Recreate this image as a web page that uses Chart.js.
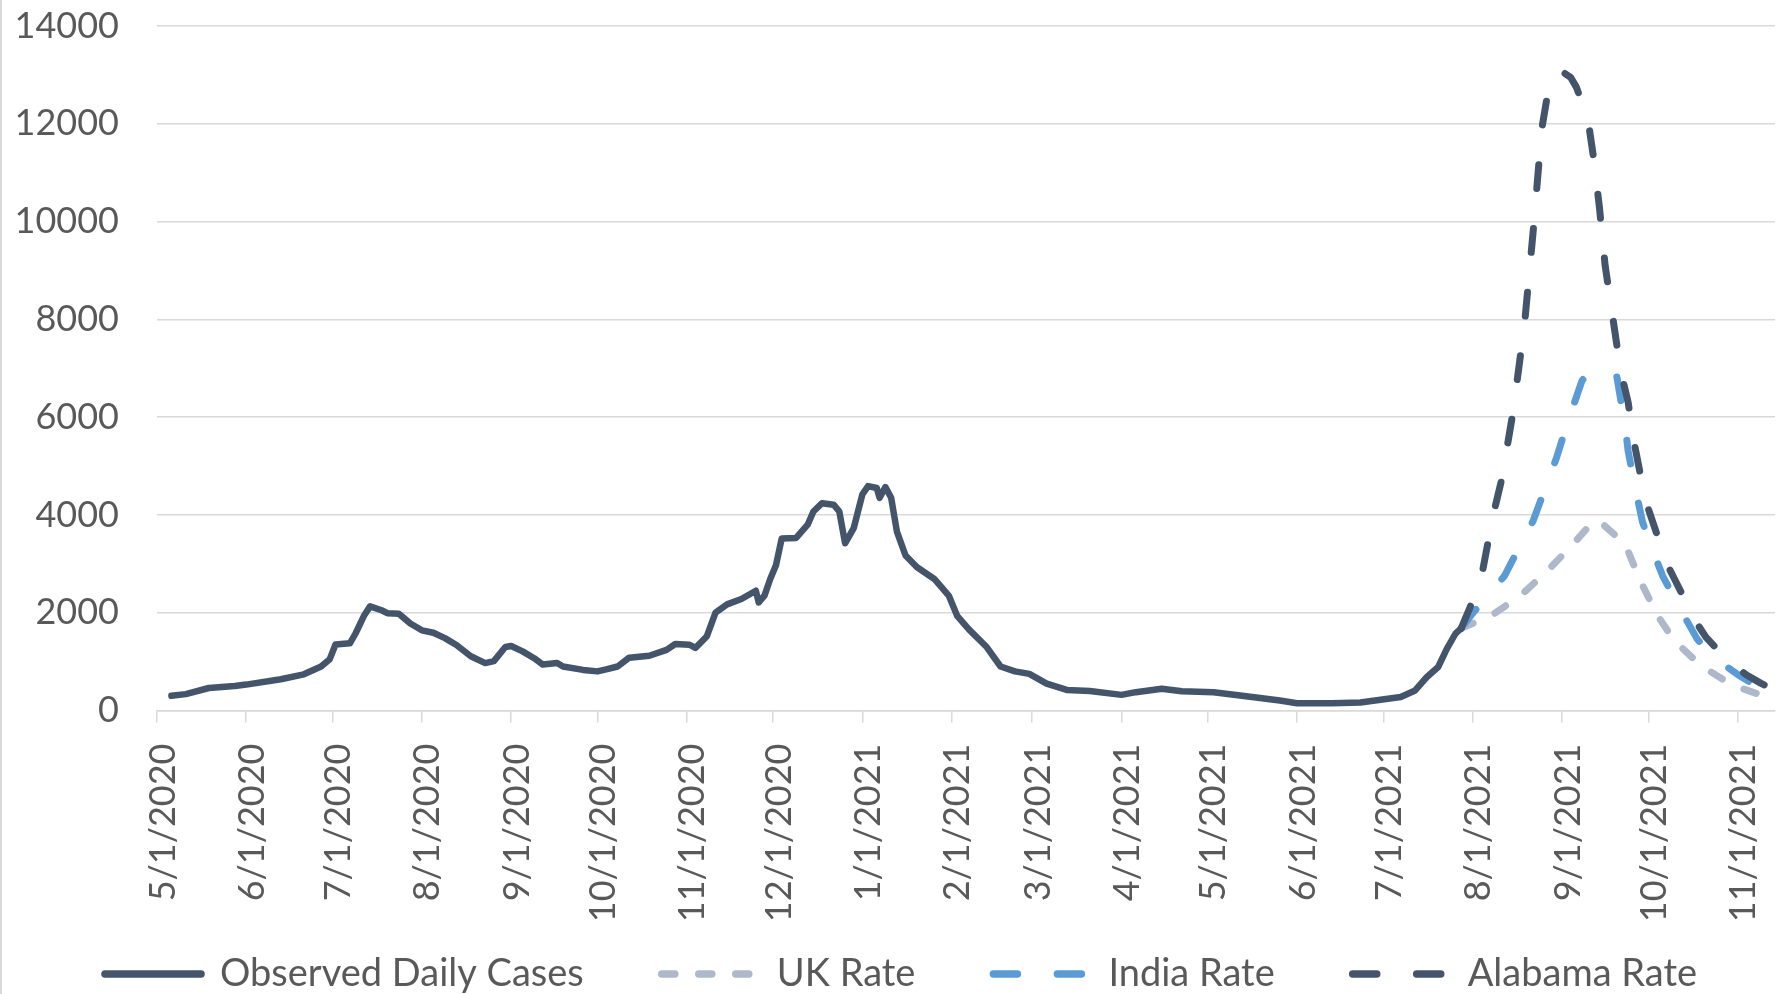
<!DOCTYPE html>
<html>
<head>
<meta charset="utf-8">
<script src="https://cdn.jsdelivr.net/npm/chart.js@4.4.1/dist/chart.umd.min.js"></script>
<style>
  html, body { margin: 0; padding: 0; background: #fff; }
  #wrap { position: relative; width: 1790px; height: 994px; }
  #frame { position: absolute; left: 0; top: 0; width: 2px; height: 994px; background: #d9d9d9; }
</style>
</head>
<body>
<div id="wrap">
  <div id="frame"></div>
  <canvas id="chart"></canvas>
</div>
<script>
// Observed daily cases
const observedDates = [
  '5/6/2020', '5/11/2020', '5/19/2020', '5/28/2020', '6/1/2020', '6/13/2020', '6/21/2020', '6/27/2020',
  '6/30/2020', '7/2/2020', '7/7/2020', '7/9/2020', '7/12/2020', '7/14/2020', '7/18/2020', '7/20/2020',
  '7/24/2020', '7/28/2020', '8/1/2020', '8/5/2020', '8/9/2020', '8/13/2020', '8/18/2020', '8/23/2020',
  '8/26/2020', '8/30/2020', '9/1/2020', '9/5/2020', '9/9/2020', '9/12/2020', '9/17/2020', '9/19/2020',
  '9/26/2020', '10/1/2020', '10/4/2020', '10/8/2020', '10/12/2020', '10/19/2020', '10/25/2020', '10/28/2020',
  '11/2/2020', '11/4/2020', '11/8/2020', '11/11/2020', '11/15/2020', '11/20/2020', '11/25/2020', '11/26/2020',
  '11/28/2020', '11/30/2020', '12/2/2020', '12/4/2020', '12/9/2020', '12/13/2020', '12/15/2020', '12/18/2020',
  '12/22/2020', '12/24/2020', '12/26/2020', '12/29/2020', '1/1/2021', '1/3/2021', '1/6/2021', '1/7/2021',
  '1/9/2021', '1/11/2021', '1/13/2021', '1/16/2021', '1/20/2021', '1/26/2021', '1/31/2021', '2/3/2021',
  '2/7/2021', '2/13/2021', '2/18/2021', '2/23/2021', '2/28/2021', '3/6/2021', '3/13/2021', '3/21/2021',
  '4/1/2021', '4/6/2021', '4/15/2021', '4/22/2021', '5/3/2021', '5/15/2021', '5/26/2021', '6/1/2021',
  '6/13/2021', '6/23/2021', '6/30/2021', '7/7/2021', '7/12/2021', '7/16/2021', '7/20/2021', '7/23/2021',
  '7/26/2021', '7/28/2021'
];
const observedCases = [
  300, 335, 460, 500, 530, 640, 740, 900,
  1050, 1350, 1375, 1580, 1950, 2130, 2050, 1990,
  1980, 1780, 1640, 1590, 1480, 1340, 1110, 970,
  1010, 1300, 1320, 1210, 1070, 940, 970, 900,
  830, 800, 840, 900, 1080, 1120, 1240, 1360,
  1345, 1280, 1520, 2000, 2170, 2280, 2450, 2210,
  2350, 2690, 2970, 3520, 3530, 3800, 4070, 4240,
  4210, 4070, 3420, 3730, 4420, 4590, 4550, 4350,
  4570, 4350, 3660, 3170, 2930, 2690, 2350, 1930,
  1660, 1310, 900, 800, 750, 550, 420, 400,
  320, 375, 445, 395, 375, 285, 205, 150,
  150, 165, 220, 275, 410, 680, 890, 1260,
  1570, 1680
];

// projections from 7/28/2021
const ukDates = [
  '7/28/2021', '8/8/2021', '8/18/2021', '8/27/2021', '9/5/2021', '9/12/2021', '9/15/2021', '9/23/2021',
  '9/28/2021', '10/4/2021', '10/10/2021', '10/19/2021', '10/30/2021', '11/10/2021', '11/14/2021'
];
const ukRate = [1680, 1960, 2370, 2860, 3410, 3880, 3820, 3400, 2680, 1960, 1430, 930, 520, 300, 250];

const indiaDates = [
  '7/28/2021', '8/1/2021', '8/12/2021', '8/22/2021', '8/30/2021', '9/3/2021', '9/8/2021', '9/11/2021',
  '9/15/2021', '9/18/2021', '9/20/2021', '9/23/2021', '9/24/2021', '9/27/2021', '9/29/2021', '10/3/2021',
  '10/6/2021', '10/12/2021', '10/18/2021', '10/24/2021', '11/2/2021', '11/8/2021', '11/14/2021'
];
const indiaRate = [
  1680, 1990, 2750, 3880, 5150, 5900, 6750, 6950,
  6950, 6900, 6850, 5800, 5300, 4400, 3850, 3200,
  2750, 2080, 1460, 1070, 700, 480, 280
];

const alabamaDates = [
  '7/28/2021', '7/31/2021', '8/4/2021', '8/8/2021', '8/11/2021', '8/15/2021', '8/19/2021', '8/22/2021',
  '8/25/2021', '8/28/2021', '8/30/2021', '9/2/2021', '9/4/2021', '9/6/2021', '9/10/2021', '9/12/2021',
  '9/14/2021', '9/16/2021', '9/18/2021', '9/20/2021', '9/22/2021', '9/24/2021', '9/26/2021', '9/28/2021',
  '9/30/2021', '10/2/2021', '10/4/2021', '10/7/2021', '10/10/2021', '10/13/2021', '10/17/2021', '10/21/2021',
  '10/25/2021', '10/30/2021', '11/4/2021', '11/9/2021', '11/14/2021'
];
const alabamaRate = [
  1680, 2100, 2720, 3970, 4710, 6100, 7900, 9800,
  11900, 12950, 13030, 13030, 12950, 12750, 12100, 11300,
  10300, 9100, 8300, 7500, 6800, 6300, 5500, 4900,
  4300, 3950, 3600, 3050, 2700, 2350, 1860, 1500,
  1250, 960, 730, 560, 410
];

const tickDates = [
  '5/1/2020', '6/1/2020', '7/1/2020', '8/1/2020', '9/1/2020', '10/1/2020', '11/1/2020', '12/1/2020',
  '1/1/2021', '2/1/2021', '3/1/2021', '4/1/2021', '5/1/2021', '6/1/2021', '7/1/2021', '8/1/2021',
  '9/1/2021', '10/1/2021', '11/1/2021'
];
const axisStart = '5/1/2020';
const axisEnd = '11/14/2021';
const yTicks = [0, 2000, 4000, 6000, 8000, 10000, 12000, 14000];

const FONT = "Lato, 'Open Sans', sans-serif";
const TEXT = '#595959';
const GRID = '#D9D9D9';

// days since the first day on the axis
function dayOf(s) {
  const [m, d, y] = s.split('/').map(Number);
  return (Date.UTC(y, m - 1, d) - Date.UTC(2020, 4, 1)) / 864e5;
}
const points = (dates, vals) => dates.map((d, i) => ({ x: dayOf(d), y: vals[i] }));

const tickLabel = {};
tickDates.forEach(d => { tickLabel[dayOf(d)] = d; });

const lineStyle = {
  pointRadius: 0,
  pointHoverRadius: 0,
  tension: 0,
  borderCapStyle: 'round',
  borderJoinStyle: 'round',
  fill: false
};

// the date labels hang down behind the legend's top padding, so don't clip them to the axis box
const unclipDates = {
  id: 'unclipDates',
  afterLayout(chart) {
    chart.scales.x.bottom = chart.height;
  }
};

new Chart(document.getElementById('chart'), {
  type: 'line',
  plugins: [unclipDates],
  data: {
    datasets: [
      { ...lineStyle, label: 'Observed Daily Cases', data: points(observedDates, observedCases),
        borderColor: '#44546A', backgroundColor: '#44546A', borderWidth: 6.5, order: 0 },
      { ...lineStyle, label: 'UK Rate', data: points(ukDates, ukRate),
        borderColor: '#ADB9CA', backgroundColor: '#ADB9CA', borderWidth: 7, borderDash: [13, 24], order: 3 },
      { ...lineStyle, label: 'India Rate', data: points(indiaDates, indiaRate),
        borderColor: '#5B9BD5', backgroundColor: '#5B9BD5', borderWidth: 7, borderDash: [24, 40], order: 2 },
      { ...lineStyle, label: 'Alabama Rate', data: points(alabamaDates, alabamaRate),
        borderColor: '#44546A', backgroundColor: '#44546A', borderWidth: 7, borderDash: [24, 40], order: 1 }
    ]
  },
  options: {
    responsive: true,
    maintainAspectRatio: false,
    animation: false,
    devicePixelRatio: 1,
    layout: { padding: { left: 14, right: 15, top: 26, bottom: -9 } },
    scales: {
      x: {
        type: 'linear',
        min: dayOf(axisStart),
        max: dayOf(axisEnd),
        afterBuildTicks: (scale) => {
          scale.ticks = tickDates.map(d => ({ value: dayOf(d) }));
        },
        // rotated labels sit on their ticks, they never spill past the ends
        afterFit: (scale) => {
          scale.height = 166.5;
          scale.paddingLeft = 0;
          scale.paddingRight = 0;
        },
        ticks: {
          autoSkip: false,
          minRotation: 90,
          maxRotation: 90,
          padding: 21,
          labelOffset: 6,
          color: TEXT,
          font: { family: FONT, size: 36 },
          callback: (v) => tickLabel[v]
        },
        grid: { drawOnChartArea: false, color: GRID, lineWidth: 1.5, tickLength: 12 },
        border: { display: true, color: GRID, width: 1.5 }
      },
      y: {
        min: 0,
        max: 14000,
        afterBuildTicks: (scale) => {
          scale.ticks = yTicks.map(v => ({ value: v }));
        },
        afterFit: (scale) => {
          scale.width = 143;
          scale.paddingTop = 0;
          scale.paddingBottom = 0;
        },
        ticks: {
          padding: 38,
          color: TEXT,
          font: { family: FONT, size: 36 },
          callback: (v) => String(v)
        },
        grid: { color: GRID, lineWidth: 1.5, drawTicks: false },
        border: { display: false }
      }
    },
    plugins: {
      tooltip: { enabled: false },
      legend: {
        position: 'bottom',
        align: 'end',
        labels: {
          usePointStyle: true,
          pointStyleWidth: 96,
          padding: 78,
          color: TEXT,
          font: { family: FONT, size: 38 },
          // line samples carry each dataset's own dash pattern
          generateLabels: (c) => c.data.datasets.map((ds, i) => ({
            text: ds.label,
            datasetIndex: i,
            fillStyle: ds.borderColor,
            strokeStyle: ds.borderColor,
            fontColor: TEXT,
            lineWidth: 7.5,
            lineDash: ds.borderDash || [],
            lineCap: 'round',
            pointStyle: 'line',
            hidden: false
          }))
        }
      }
    }
  }
});
</script>
</body>
</html>
